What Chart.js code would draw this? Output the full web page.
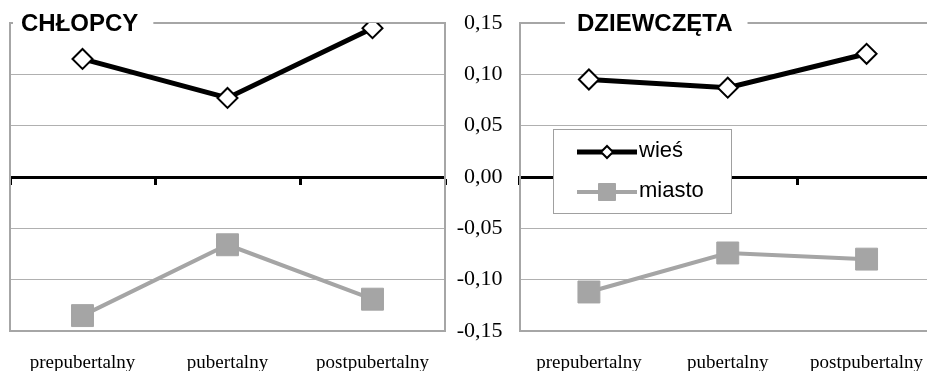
<!DOCTYPE html>
<html>
<head>
<meta charset="utf-8">
<script src="https://cdn.jsdelivr.net/npm/chart.js@4.4.0/dist/chart.umd.min.js"></script>
<style>
  html, body { margin: 0; padding: 0; background: #fff; overflow: hidden; }
  #wrap { position: relative; width: 927px; height: 371px; overflow: hidden; }
  canvas { position: absolute; top: 0; }
  #boys { left: 0; }
  #girls { left: 450px; }
</style>
</head>
<body>
<div id="wrap">
  <canvas id="boys" width="450" height="371"></canvas>
  <canvas id="girls" width="496" height="371"></canvas>
</div>
<script>
// data
const stages = ['prepubertalny', 'pubertalny', 'postpubertalny'];
const seriesNames = ['wieś', 'miasto'];
const boysRural = [0.115, 0.077, 0.145];
const boysUrban = [-0.135, -0.066, -0.119];
const girlsRural = [0.095, 0.087, 0.120];
const girlsUrban = [-0.112, -0.074, -0.080];
const yTicks = [-0.15, -0.10, -0.05, 0, 0.05, 0.10, 0.15];

const BORDER = '#a6a6a6';
const GRID = '#b0b0b0';
const URBAN = '#a5a5a5';

// format 0.05 -> "0,05"
function fmt(v) {
  if (Math.abs(v) < 1e-9) v = 0;
  return v.toFixed(2).replace('.', ',');
}

// keep scale label padding from pushing the plot area around
function noPadding(s) {
  s.paddingTop = 0;
  s.paddingBottom = 0;
  s.paddingLeft = 0;
  s.paddingRight = 0;
}

// panel title sitting on the top border
const panelTitle = {
  id: 'panelTitle',
  afterDraw(chart, args, opts) {
    const { ctx, chartArea } = chart;
    ctx.save();
    ctx.font = 'bold 24px "Liberation Sans"';
    const w = ctx.measureText(opts.text).width;
    const x = chartArea.left + opts.dx;
    ctx.fillStyle = '#fff';
    ctx.fillRect(x - opts.gapLeft, chartArea.top - 4, w + opts.gapLeft + 15, 9);
    ctx.fillStyle = '#000';
    ctx.textBaseline = 'alphabetic';
    ctx.fillText(opts.text, x, chartArea.top + 8);
    ctx.restore();
  }
};

// boxed legend inside the plot (right panel only)
const boxLegend = {
  id: 'boxLegend',
  afterDraw(chart, args, opts) {
    if (!opts.show) return;
    const { ctx, chartArea } = chart;
    const x = chartArea.left + opts.dx;
    const y = chartArea.top + opts.dy;
    ctx.save();
    ctx.fillStyle = '#fff';
    ctx.fillRect(x, y, 178, 84);
    ctx.strokeStyle = '#a0a0a0';
    ctx.lineWidth = 1;
    ctx.strokeRect(x + 0.5, y + 0.5, 178, 84);
    chart.data.datasets.forEach((ds, i) => {
      const cy = y + 23 + i * 40;
      ctx.strokeStyle = ds.borderColor;
      ctx.lineWidth = ds.borderWidth;
      ctx.beginPath();
      ctx.moveTo(x + 24, cy);
      ctx.lineTo(x + 84, cy);
      ctx.stroke();
      ctx.fillStyle = ds.pointBackgroundColor;
      ctx.strokeStyle = ds.pointBorderColor;
      ctx.lineWidth = ds.pointBorderWidth;
      Chart.helpers.drawPoint(ctx, {
        pointStyle: ds.pointStyle, radius: opts.markerSize[i],
        borderWidth: ds.pointBorderWidth, rotation: 0
      }, x + 54, cy);
      ctx.fillStyle = '#000';
      ctx.font = '22px "Liberation Sans"';
      ctx.textBaseline = 'middle';
      ctx.fillText(ds.label, x + 86, cy - 1);
    });
    ctx.restore();
  }
};

function makeDatasets(rural, urban) {
  return [
    {
      label: seriesNames[0], data: rural,
      borderColor: '#000', borderWidth: 5,
      pointStyle: 'rectRot', pointRadius: 10, pointHoverRadius: 10,
      pointBackgroundColor: '#fff', pointBorderColor: '#000', pointBorderWidth: 2
    },
    {
      label: seriesNames[1], data: urban,
      borderColor: URBAN, borderWidth: 4,
      pointStyle: 'rect', pointRadius: 15.5, pointHoverRadius: 15.5,
      pointBackgroundColor: URBAN, pointBorderColor: URBAN, pointBorderWidth: 1
    }
  ];
}

function makeScales(showY, yWidth) {
  return {
    x: {
      type: 'category', position: 'bottom', offset: true,
      grid: { offset: true, drawOnChartArea: false, drawTicks: false },
      border: { color: BORDER, width: 2 },
      ticks: {
        color: '#000', padding: 21, maxRotation: 0, autoSkip: false,
        font: { family: 'Liberation Serif', size: 19 }
      },
      afterFit: s => { s.height = 40; noPadding(s); }
    },
    zero: {
      type: 'category', axis: 'x', position: { y: 0 }, offset: true,
      grid: { offset: true, drawOnChartArea: false, drawTicks: true, tickLength: 6, tickColor: '#000', tickWidth: 3 },
      border: { color: '#000', width: 3 },
      ticks: { display: false },
      afterFit: noPadding
    },
    y: {
      position: 'left', min: -0.15, max: 0.15,
      afterBuildTicks: s => { s.ticks = yTicks.map(v => ({ value: v })); },
      grid: {
        drawTicks: false,
        color: c => (c.tick && c.tick.value === 0.15 ? BORDER : GRID),
        lineWidth: c => (c.tick && c.tick.value === 0.15 ? 2 : 1)
      },
      border: { color: BORDER, width: 2 },
      ticks: {
        display: showY, padding: 17, color: '#000',
        font: { family: 'Liberation Serif', size: 22 },
        callback: v => fmt(v)
      },
      afterFit: s => { s.width = yWidth; noPadding(s); }
    },
    yr: {
      position: 'right', min: -0.15, max: 0.15,
      grid: { drawOnChartArea: false, drawTicks: false },
      border: { color: BORDER, width: 2 },
      ticks: { display: false },
      afterFit: s => { s.width = 0; noPadding(s); }
    }
  };
}

function makeChart(id, rural, urban, title, opts) {
  return new Chart(document.getElementById(id), {
    type: 'line',
    data: { labels: stages, datasets: makeDatasets(rural, urban) },
    options: {
      responsive: false,
      animation: false,
      devicePixelRatio: 1,
      events: [],
      layout: { padding: opts.padding, autoPadding: false },
      scales: makeScales(opts.showY, opts.yWidth),
      plugins: {
        legend: { display: false },
        tooltip: { enabled: false },
        panelTitle: { text: title, dx: opts.titleDx, gapLeft: opts.gapLeft },
        boxLegend: { show: opts.legend, dx: 33.5, dy: 106, markerSize: [6, 12] }
      }
    },
    plugins: [panelTitle, boxLegend]
  });
}

makeChart('boys', boysRural, boysUrban, 'CHŁOPCY', {
  padding: { top: 23, left: 10, right: 5, bottom: 0 },
  showY: false, yWidth: 0, titleDx: 11, gapLeft: 8, legend: false
});
makeChart('girls', girlsRural, girlsUrban, 'DZIEWCZĘTA', {
  padding: { top: 23, left: 0, right: 10, bottom: 0 },
  showY: true, yWidth: 69.5, titleDx: 57.5, gapLeft: 12, legend: true
});
</script>
</body>
</html>
